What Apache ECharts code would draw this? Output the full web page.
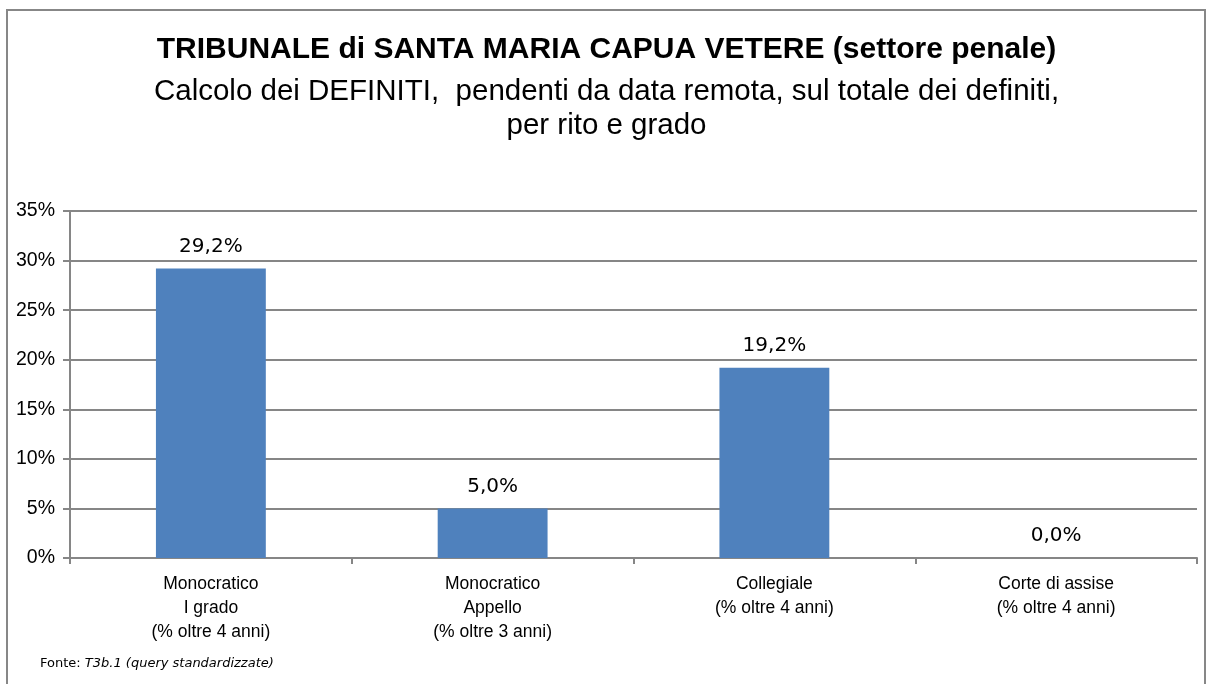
<!DOCTYPE html>
<html>
<head>
<meta charset="utf-8">
<script src="https://cdn.jsdelivr.net/npm/echarts@6/dist/echarts.min.js"></script>
<style>
  html, body { margin: 0; padding: 0; background: #fff; }
  #chart { width: 1213px; height: 684px; }
</style>
</head>
<body>
<div id="chart"></div>
<script>
// categorie e valori (percentuali)
var categorie = [
    'Monocratico\nI grado\n(% oltre 4 anni)',
    'Monocratico\nAppello\n(% oltre 3 anni)',
    'Collegiale\n(% oltre 4 anni)',
    'Corte di assise\n(% oltre 4 anni)'
];
var valori = [29.2, 5.0, 19.2, 0.0];
var asseY = { min: 0, max: 35, interval: 5 };

var myChart = echarts.init(document.getElementById('chart'));

var option = {
    backgroundColor: '#fff',
    animation: false,
    textStyle: { fontFamily: 'Liberation Sans, Arial, sans-serif' },
    title: {
        text: 'TRIBUNALE di SANTA MARIA CAPUA VETERE (settore penale)',
        subtext: 'Calcolo dei DEFINITI,  pendenti da data remota, sul totale dei definiti,\nper rito e grado',
        left: 'center',
        top: 30,
        itemGap: 10,
        textStyle: { fontSize: 30, fontWeight: 'bold', color: '#000' },
        subtextStyle: { fontSize: 29.5, color: '#000', lineHeight: 34 }
    },
    grid: { left: 70, right: 16, top: 211, bottom: 126 },
    xAxis: {
        type: 'category',
        data: categorie,
        axisLine: { lineStyle: { color: '#868686', width: 2 } },
        axisTick: { show: true, length: 6, lineStyle: { color: '#868686', width: 2 } },
        axisLabel: { color: '#000', fontSize: 17.5, lineHeight: 24, margin: 14 }
    },
    yAxis: {
        type: 'value',
        min: asseY.min,
        max: asseY.max,
        interval: asseY.interval,
        axisLine: { show: true, lineStyle: { color: '#868686', width: 2 } },
        axisTick: { show: true, length: 7, lineStyle: { color: '#868686', width: 2 } },
        splitLine: { lineStyle: { color: '#868686', width: 2 } },
        axisLabel: { color: '#000', fontSize: 19.5, margin: 15, formatter: '{value}%' }
    },
    series: [{
        type: 'bar',
        data: valori,
        barWidth: '39%',
        itemStyle: { color: '#4F81BD' },
        label: {
            show: true,
            position: 'top',
            distance: 12,
            color: '#000',
            fontSize: 20,
            fontFamily: 'DejaVu Sans, sans-serif',
            formatter: function (p) { return p.value.toFixed(1).replace('.', ',') + '%'; }
        }
    }],
    graphic: [
        {
            type: 'rect',
            shape: { x: 7, y: 10, width: 1198, height: 720 },
            style: { fill: 'none', stroke: '#878787', lineWidth: 2 }
        },
        {
            type: 'text',
            left: 40,
            top: 657,
            style: {
                text: '{n|Fonte: }{i|T3b.1 (query standardizzate)}',
                rich: {
                    n: { fontSize: 13, fontFamily: 'DejaVu Sans, sans-serif', fill: '#000' },
                    i: { fontSize: 13, fontFamily: 'DejaVu Sans, sans-serif', fontStyle: 'italic', fill: '#000' }
                }
            }
        }
    ]
};

myChart.setOption(option);
</script>
</body>
</html>
